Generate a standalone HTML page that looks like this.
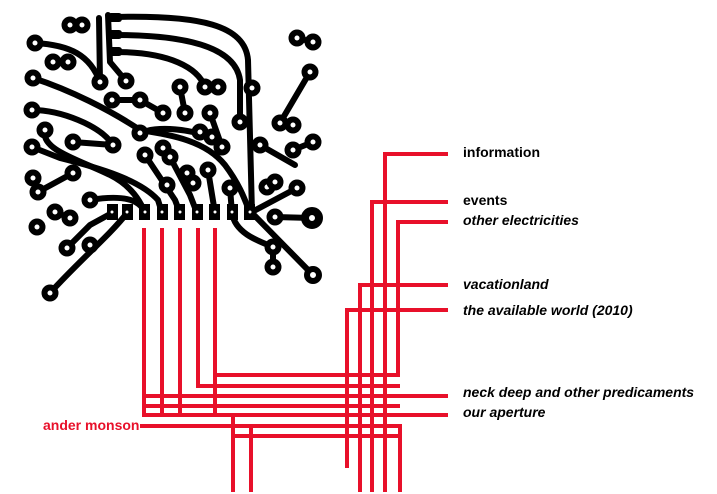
<!DOCTYPE html>
<html><head><meta charset="utf-8"><style>
html,body{margin:0;padding:0;background:#fff;}
svg{display:block;}
text{font-family:"Liberation Sans",sans-serif;font-weight:bold;font-size:14px;}
</style></head><body>
<svg width="717" height="494" viewBox="0 0 717 494" xmlns="http://www.w3.org/2000/svg">
<g fill="none" stroke="#000" stroke-width="6" stroke-linecap="round" stroke-linejoin="round">
<path d="M115 17 C200 15 245 25 248 60 L252 213"/>
<path d="M115 35 C180 35 235 45 240 80 L240 122"/>
<path d="M115 52 C170 52 198 68 205 87"/>
<path d="M100 82 L99 18"/>
<path d="M108 15 L110 62 L126 81"/>
<path d="M35 43 C70 45 90 55 100 82"/>
<path d="M33 78 C70 90 110 110 140 130 C170 135 205 140 225 165 C240 185 245 200 250 213"/>
<path d="M32 110 C60 110 100 125 113 145"/>
<path d="M32 147 L60 158 C100 168 140 180 158 200 L162 213"/>
<path d="M45 130 C40 150 80 160 110 175 C130 185 140 200 145 213"/>
<path d="M112 100 L140 100 L163 113"/>
<path d="M140 133 C160 125 190 130 212 137"/>
<path d="M145 155 L175 200 L180 213"/>
<path d="M163 148 L170 157 L190 195 L197 213"/>
<path d="M208 170 L215 213"/>
<path d="M187 173 L193 183"/>
<path d="M230 188 L232 213 C235 232 255 240 273 247 L273 267"/>
<path d="M250 213 L297 188"/>
<path d="M252 213 L313 275"/>
<path d="M297 38 L313 42"/>
<path d="M310 72 L280 123"/>
<path d="M260 145 L295 165"/>
<path d="M293 150 L313 142"/>
<path d="M267 187 L275 182"/>
<path d="M180 87 L185 113"/>
<path d="M205 87 L218 87"/>
<path d="M53 62 L68 62"/>
<path d="M70 25 L82 25"/>
<path d="M210 113 L222 147"/>
<path d="M200 132 L212 137"/>
<path d="M73 142 L113 145"/>
<path d="M33 178 L38 192 L73 173"/>
<path d="M90 200 C120 195 140 198 145 213"/>
<path d="M112 213 L90 225 L67 248"/>
<path d="M127 213 C110 235 80 260 50 293"/>
<path d="M55 212 L70 218"/>
<path d="M275 217 L312 218"/>
</g>
<g fill="#000">
<rect x="108" y="13" width="14" height="9" rx="3"/><rect x="108" y="30" width="14" height="9" rx="3"/><rect x="108" y="47" width="14" height="9" rx="3"/>
<rect x="107" y="204" width="11" height="16"/><rect x="122" y="204" width="11" height="16"/><rect x="139" y="204" width="11" height="16"/><rect x="157" y="204" width="11" height="16"/><rect x="174" y="204" width="11" height="16"/><rect x="192" y="204" width="11" height="16"/><rect x="209" y="204" width="11" height="16"/><rect x="227" y="204" width="11" height="16"/><rect x="244" y="204" width="11" height="16"/>
</g>
<g fill="#fff">
<circle cx="112" cy="212" r="1.5"/><circle cx="127" cy="212" r="1.5"/><circle cx="145" cy="212" r="1.5"/><circle cx="162" cy="212" r="1.5"/><circle cx="180" cy="212" r="1.5"/><circle cx="197" cy="212" r="1.5"/><circle cx="215" cy="212" r="1.5"/><circle cx="232" cy="212" r="1.5"/><circle cx="250" cy="212" r="1.5"/>
</g>
<g fill="#fff" stroke="#000" stroke-width="6">
<circle cx="70" cy="25" r="5.5"/><circle cx="82" cy="25" r="5.5"/><circle cx="35" cy="43" r="5.5"/><circle cx="53" cy="62" r="5.5"/><circle cx="68" cy="62" r="5.5"/><circle cx="33" cy="78" r="5.5"/><circle cx="100" cy="82" r="5.5"/><circle cx="126" cy="81" r="5.5"/><circle cx="180" cy="87" r="5.5"/><circle cx="205" cy="87" r="5.5"/><circle cx="218" cy="87" r="5.5"/><circle cx="252" cy="88" r="5.5"/><circle cx="297" cy="38" r="5.5"/><circle cx="313" cy="42" r="5.5"/><circle cx="310" cy="72" r="5.5"/><circle cx="112" cy="100" r="5.5"/><circle cx="140" cy="100" r="5.5"/><circle cx="163" cy="113" r="5.5"/><circle cx="185" cy="113" r="5.5"/><circle cx="210" cy="113" r="5.5"/><circle cx="240" cy="122" r="5.5"/><circle cx="280" cy="123" r="5.5"/><circle cx="293" cy="125" r="5.5"/><circle cx="32" cy="110" r="5.5"/><circle cx="45" cy="130" r="5.5"/><circle cx="140" cy="133" r="5.5"/><circle cx="200" cy="132" r="5.5"/><circle cx="212" cy="137" r="5.5"/><circle cx="73" cy="142" r="5.5"/><circle cx="113" cy="145" r="5.5"/><circle cx="32" cy="147" r="5.5"/><circle cx="163" cy="148" r="5.5"/><circle cx="170" cy="157" r="5.5"/><circle cx="222" cy="147" r="5.5"/><circle cx="260" cy="145" r="5.5"/><circle cx="293" cy="150" r="5.5"/><circle cx="313" cy="142" r="5.5"/><circle cx="145" cy="155" r="5.5"/><circle cx="33" cy="178" r="5.5"/><circle cx="38" cy="192" r="5.5"/><circle cx="73" cy="173" r="5.5"/><circle cx="187" cy="173" r="5.5"/><circle cx="193" cy="183" r="5.5"/><circle cx="208" cy="170" r="5.5"/><circle cx="167" cy="185" r="5.5"/><circle cx="230" cy="188" r="5.5"/><circle cx="267" cy="187" r="5.5"/><circle cx="275" cy="182" r="5.5"/><circle cx="297" cy="188" r="5.5"/><circle cx="90" cy="200" r="5.5"/><circle cx="55" cy="212" r="5.5"/><circle cx="70" cy="218" r="5.5"/><circle cx="37" cy="227" r="5.5"/><circle cx="275" cy="217" r="5.5"/><circle cx="67" cy="248" r="5.5"/><circle cx="90" cy="245" r="5.5"/><circle cx="273" cy="247" r="5.5"/><circle cx="273" cy="267" r="5.5"/><circle cx="313" cy="275" r="6"/><circle cx="50" cy="293" r="5.5"/>
<circle cx="312" cy="218" r="7" stroke-width="8"/>
</g>
<g fill="none" stroke="#e8102a" stroke-width="4" stroke-linecap="butt">
<path d="M144 228 V415 H448"/>
<path d="M162 228 V415"/>
<path d="M180 228 V415"/>
<path d="M198 228 V386 H400"/>
<path d="M215 228 V413"/>
<path d="M215 375 H398 V222 H448"/>
<path d="M144 396 H448"/>
<path d="M144 406 H400"/>
<path d="M140 426 H400 V492"/>
<path d="M233 417 V492"/>
<path d="M251 426 V492"/>
<path d="M233 436 H400"/>
<path d="M347 468 V310 H448"/>
<path d="M360 492 V285 H448"/>
<path d="M372 492 V202 H448"/>
<path d="M385 492 V154 H448"/>
</g>
<text x="463" y="157" fill="#000" font-size="14.5">information</text>
<text x="463" y="205" fill="#000" font-size="14.5">events</text>
<g fill="#000" font-size="14.5">
<text x="463" y="225" font-style="italic" font-size="14.5">other electricities</text>
<text x="463" y="289" font-style="italic" font-size="14.5">vacationland</text>
<text x="463" y="315" font-style="italic" font-size="14.5">the available world (2010)</text>
<text x="463" y="397" font-style="italic" font-size="14.5">neck deep and other predicaments</text>
<text x="463" y="417" font-style="italic" font-size="14.5">our aperture</text>
</g>
<text x="43" y="430" fill="#e8102a" font-size="14">ander monson</text>
</svg>
</body></html>
